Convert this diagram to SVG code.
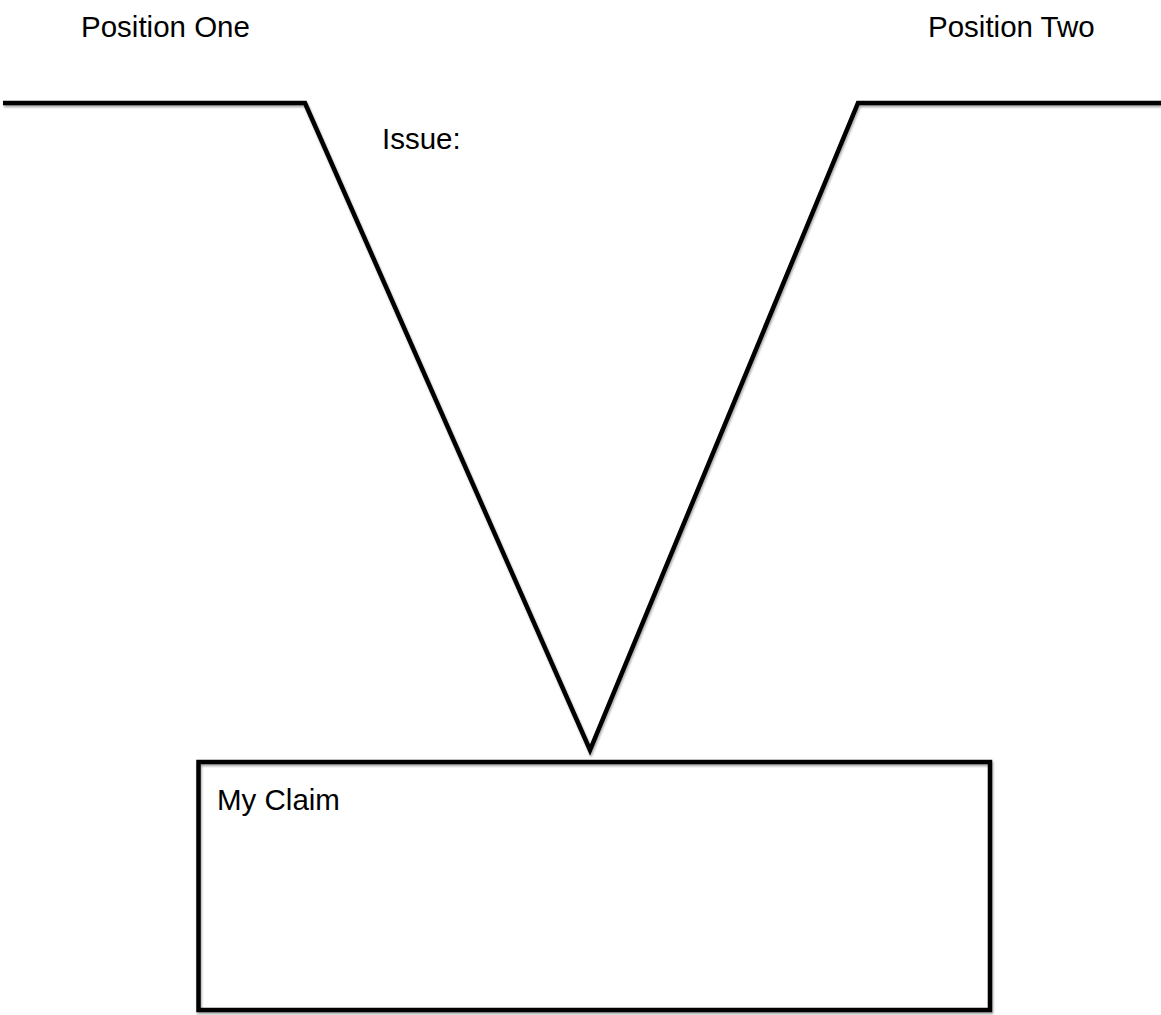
<svg xmlns="http://www.w3.org/2000/svg" width="1161" height="1015" viewBox="0 0 1161 1015">
  <defs>
    <filter id="shadow" x="-5%" y="-5%" width="110%" height="110%">
      <feDropShadow dx="1" dy="2" stdDeviation="1.2" flood-color="#000" flood-opacity="0.35"/>
    </filter>
    <style>
      .lbl { font-family: "Liberation Sans", Arial, sans-serif; font-size: 29.5px; fill: #000; }
      .line { fill: none; stroke: #000; stroke-width: 4.5; }
    </style>
  </defs>
  <rect width="1161" height="1015" fill="#fff"/>
  <g id="connectors">
    <polyline class="line" filter="url(#shadow)" points="3,103 305,103 590,750 858,103 1161,103"/>
  </g>
  <g id="position-one">
    <text class="lbl" x="81" y="37">Position One</text>
  </g>
  <g id="position-two">
    <text class="lbl" x="928" y="37">Position Two</text>
  </g>
  <g id="issue">
    <text class="lbl" x="382" y="149">Issue:</text>
  </g>
  <g id="my-claim">
    <rect class="line" filter="url(#shadow)" x="198.5" y="762" width="791.5" height="248"/>
    <text class="lbl" x="217" y="810">My Claim</text>
  </g>
</svg>
